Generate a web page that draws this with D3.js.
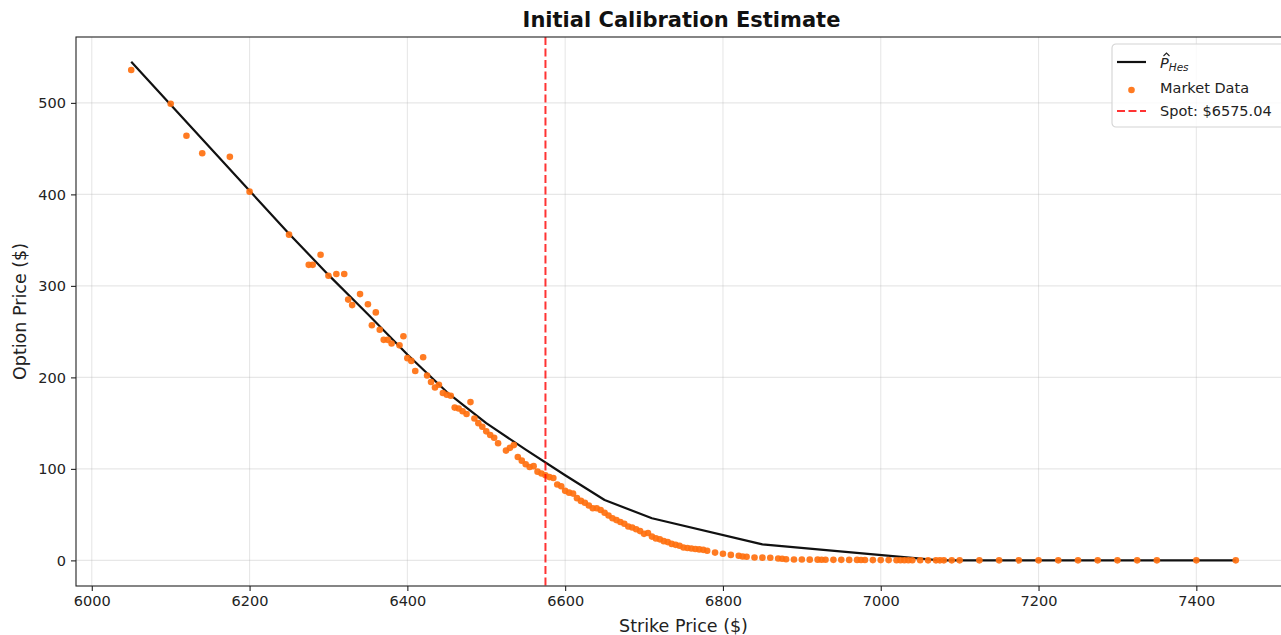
<!DOCTYPE html>
<html>
<head>
<meta charset="utf-8">
<script src="https://cdn.jsdelivr.net/npm/d3@7"></script>
<style>
  html, body { margin: 0; padding: 0; background: #fff; }
  svg { display: block; font-family: "DejaVu Sans", sans-serif; }
</style>
</head>
<body>
<svg id="chart" width="1281" height="635"></svg>
<script>
// Model curve (Heston estimate) evaluated on a strike grid
const modelStrikes = [6050, 6100, 6150, 6200, 6250, 6300, 6350, 6400, 6450, 6500, 6550, 6600, 6650, 6710, 6850, 7075, 7450];
const modelPrices  = [545, 498, 451, 404, 357, 312, 269, 225, 184, 150, 121, 93, 66, 46, 17.5, 0, 0];

// Observed market quotes
const marketStrikes = [
  6050, 6100, 6120, 6140, 6175, 6200, 6250, 6275, 6280, 6290, 6300, 6310, 6320, 6325, 6330, 6340,
  6350, 6355, 6360, 6365, 6370, 6375, 6380, 6390, 6395, 6400, 6405, 6410, 6420, 6425, 6430, 6435,
  6440, 6445, 6450, 6455, 6460, 6465, 6470, 6475, 6480, 6485, 6490, 6495, 6500, 6505, 6510, 6515,
  6525, 6530, 6535, 6540, 6545, 6550, 6555, 6560, 6565, 6570, 6575, 6580, 6585, 6590, 6595, 6600,
  6605, 6610, 6615, 6620, 6625, 6630, 6635, 6640, 6645, 6650, 6655, 6660, 6665, 6670, 6675, 6680,
  6685, 6690, 6695, 6700, 6705, 6710, 6715, 6720, 6725, 6730, 6735, 6740, 6745, 6750, 6755, 6760,
  6765, 6770, 6775, 6780, 6790, 6800, 6810, 6820, 6825, 6830, 6840, 6850, 6860, 6870, 6875, 6880,
  6890, 6900, 6910, 6920, 6925, 6930, 6940, 6950, 6960, 6970, 6975, 6980, 6990, 7000, 7010, 7020,
  7025, 7030, 7035, 7040, 7050, 7060, 7070, 7075, 7080, 7090, 7100, 7125, 7150, 7175, 7200, 7225,
  7250, 7275, 7300, 7325, 7350, 7400, 7450
];
const marketPrices = [
  536, 499, 464, 445, 441, 403, 356, 323, 323, 334, 311, 313, 313, 285, 279, 291,
  280, 257, 271, 252, 241, 241, 237, 235, 245, 221, 218, 207, 222, 202, 195, 189,
  192, 183, 181, 180, 167, 166, 163, 160, 173, 155, 150, 146, 141, 137, 134, 128,
  120, 123, 126, 113, 109, 105, 102, 103, 97, 95, 93, 91, 90, 83, 81, 76,
  74, 73, 68, 65, 63, 60, 57, 57, 55, 52, 49, 46, 44, 42, 40, 37,
  36, 34, 32, 29, 30, 26, 24, 23, 21, 20, 18, 17, 16, 14, 13.5, 13,
  12.5, 12, 11.5, 10.5, 8.5, 7.2, 6, 5, 4.2, 4, 3.2, 3, 2.8, 2, 1.8, 1.2,
  1, 0.9, 0.8, 0.8, 0.7, 0.7, 0.6, 0.6, 0.5, 0.5, 0.4, 0.4, 0.3, 0.3, 0.3, 0.1,
  0.1, 0.1, 0.1, 0.1, 0.1, 0.05, 0.05, 0.05, 0.05, 0.05, 0.05, 0.05, 0.05, 0.05, 0.05, 0.05,
  0.05, 0.05, 0.05, 0.05, 0.05, 0.05, 0.05
];

const spotPrice = 6575.04;
const xTicks = [6000, 6200, 6400, 6600, 6800, 7000, 7200, 7400];
const yTicks = [0, 100, 200, 300, 400, 500];

const titleText = "Initial Calibration Estimate";
const xLabel = "Strike Price ($)";
const yLabel = "Option Price ($)";
const marketLabel = "Market Data";
const spotLabel = "Spot: $" + spotPrice.toFixed(2);

// Layout
const plot = { left: 76, right: 1291, top: 37, bottom: 586 };
const svg = d3.select("#chart");

const x = d3.scaleLinear().domain([5980, 7520]).range([plot.left, plot.right]);
const y = d3.scaleLinear().domain([-28, 572]).range([plot.bottom, plot.top]);

const orange = "#ff700f";

// Grid
const grid = svg.append("g").attr("class", "grid");
grid.selectAll("line.gx").data(xTicks).join("line")
  .attr("x1", d => x(d)).attr("x2", d => x(d))
  .attr("y1", plot.top).attr("y2", plot.bottom)
  .attr("stroke", "#b0b0b0").attr("stroke-opacity", 0.3).attr("stroke-width", 1.1);
grid.selectAll("line.gy").data(yTicks).join("line")
  .attr("x1", plot.left).attr("x2", plot.right)
  .attr("y1", d => y(d)).attr("y2", d => y(d))
  .attr("stroke", "#b0b0b0").attr("stroke-opacity", 0.3).attr("stroke-width", 1.1);

// Clip region for data
svg.append("defs").append("clipPath").attr("id", "plotClip")
  .append("rect").attr("x", plot.left).attr("y", plot.top)
  .attr("width", plot.right - plot.left).attr("height", plot.bottom - plot.top);

const data = svg.append("g").attr("clip-path", "url(#plotClip)");

// Model line
const modelPts = modelStrikes.map((k, i) => [k, modelPrices[i]]);
data.append("path")
  .datum(modelPts)
  .attr("fill", "none")
  .attr("stroke", "#111")
  .attr("stroke-width", 2.2)
  .attr("stroke-linejoin", "round")
  .attr("d", d3.line().x(d => x(d[0])).y(d => y(d[1])));

// Market scatter
const marketPts = marketStrikes.map((k, i) => [k, marketPrices[i]]);
data.selectAll("circle.mkt").data(marketPts).join("circle")
  .attr("class", "mkt")
  .attr("cx", d => x(d[0]))
  .attr("cy", d => y(d[1]))
  .attr("r", 3.3)
  .attr("fill", orange)
  .attr("fill-opacity", 0.92);

// Spot line
data.append("line")
  .attr("x1", x(spotPrice)).attr("x2", x(spotPrice))
  .attr("y1", plot.top).attr("y2", plot.bottom)
  .attr("stroke", "red").attr("stroke-opacity", 0.8)
  .attr("stroke-width", 2)
  .attr("stroke-dasharray", "8,3.5");

// Axes
const xAxis = d3.axisBottom(x).tickValues(xTicks).tickSize(5).tickPadding(5).tickFormat(d3.format("d"));
const yAxis = d3.axisLeft(y).tickValues(yTicks).tickSize(5).tickPadding(5).tickFormat(d3.format("d"));

const gx = svg.append("g").attr("transform", `translate(0,${plot.bottom})`).call(xAxis);
const gy = svg.append("g").attr("transform", `translate(${plot.left},0)`).call(yAxis);
[gx, gy].forEach(g => {
  g.select(".domain").remove();
  g.selectAll(".tick line").attr("stroke", "#222").attr("stroke-width", 1.1);
  g.selectAll(".tick text").attr("fill", "#222").attr("font-size", 14.5)
    .attr("font-family", "DejaVu Sans");
});

// Spines
svg.append("rect")
  .attr("x", plot.left).attr("y", plot.top)
  .attr("width", plot.right - plot.left).attr("height", plot.bottom - plot.top)
  .attr("fill", "none").attr("stroke", "#222").attr("stroke-width", 1.1);

// Titles
svg.append("text")
  .attr("x", (plot.left + plot.right) / 2 - 2).attr("y", 27)
  .attr("text-anchor", "middle")
  .attr("font-size", 21).attr("font-weight", "bold").attr("fill", "#111")
  .text(titleText);

svg.append("text")
  .attr("x", (plot.left + plot.right) / 2).attr("y", 632)
  .attr("text-anchor", "middle")
  .attr("font-size", 17.5).attr("fill", "#222")
  .text(xLabel);

svg.append("text")
  .attr("transform", `translate(26,${(plot.top + plot.bottom) / 2}) rotate(-90)`)
  .attr("text-anchor", "middle")
  .attr("font-size", 17.5).attr("fill", "#222")
  .text(yLabel);

// Legend
const lg = svg.append("g").attr("transform", "translate(1112,44)");
lg.append("rect")
  .attr("x", 0).attr("y", 0).attr("width", 178).attr("height", 83)
  .attr("rx", 4).attr("ry", 4)
  .attr("fill", "#fff").attr("fill-opacity", 0.8)
  .attr("stroke", "#d4d4d4").attr("stroke-width", 1.1);

const rows = [18, 44, 67];
const hx0 = 5, hx1 = 34, tx = 48;

// Row 1: model curve, label P-hat with subscript
lg.append("line").attr("x1", hx0).attr("x2", hx1).attr("y1", rows[0]).attr("y2", rows[0])
  .attr("stroke", "#111").attr("stroke-width", 2.2);
const pLabel = lg.append("text").attr("x", tx).attr("y", rows[0] + 6)
  .attr("font-size", 14.5).attr("fill", "#222").attr("font-style", "italic");
pLabel.append("tspan").text("P");
pLabel.append("tspan").attr("font-size", 10.5).attr("dy", 3).text("Hes");
// circumflex accent drawn as a small caret over the P
lg.append("path")
  .attr("d", `M${tx + 3.5},${rows[0] - 6} L${tx + 6.5},${rows[0] - 9} L${tx + 9.5},${rows[0] - 6}`)
  .attr("fill", "none").attr("stroke", "#222").attr("stroke-width", 1.1);

// Row 2: market scatter
lg.append("circle").attr("cx", (hx0 + hx1) / 2).attr("cy", rows[1] + 2).attr("r", 3.3)
  .attr("fill", orange).attr("fill-opacity", 0.92);
lg.append("text").attr("x", tx).attr("y", rows[1] + 5)
  .attr("font-size", 14.5).attr("fill", "#222").text(marketLabel);

// Row 3: spot line
lg.append("line").attr("x1", hx0).attr("x2", hx1).attr("y1", rows[2]).attr("y2", rows[2])
  .attr("stroke", "red").attr("stroke-opacity", 0.8).attr("stroke-width", 2)
  .attr("stroke-dasharray", "8,3.5");
lg.append("text").attr("x", tx).attr("y", rows[2] + 5)
  .attr("font-size", 14.5).attr("fill", "#222").text(spotLabel);
</script>
</body>
</html>
